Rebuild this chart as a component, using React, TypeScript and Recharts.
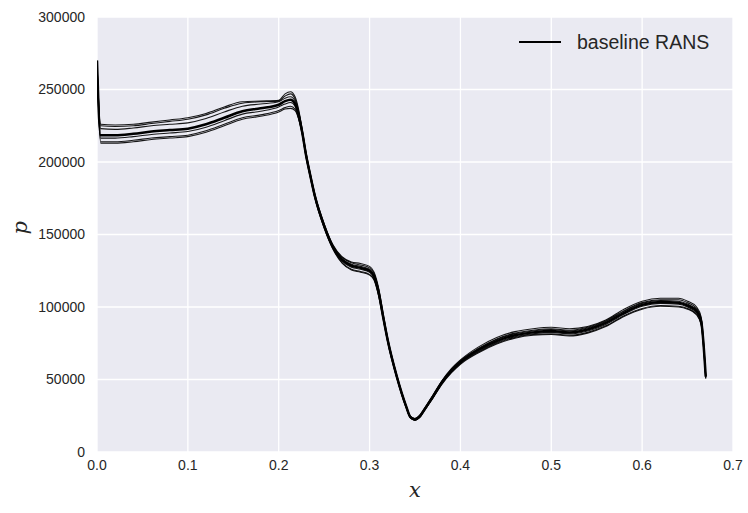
import React from 'react';
import { LineChart, Line, XAxis, YAxis, CartesianGrid, Label } from 'recharts';

const xs = [0, 0.004, 0.02, 0.04, 0.06, 0.08, 0.1, 0.12, 0.14, 0.16, 0.18, 0.2, 0.207, 0.213, 0.218, 0.222, 0.226, 0.23, 0.235, 0.24, 0.25, 0.26, 0.27, 0.28, 0.29, 0.3, 0.305, 0.31, 0.315, 0.32, 0.33, 0.34, 0.345, 0.35, 0.355, 0.36, 0.37, 0.38, 0.39, 0.4, 0.42, 0.44, 0.46, 0.48, 0.5, 0.52, 0.54, 0.56, 0.58, 0.6, 0.62, 0.64, 0.65, 0.66, 0.665, 0.67];

const baseline = [270000, 218500, 218500, 219500, 221000, 222000, 223000, 226000, 230500, 235000, 237000, 239500, 242000, 243000, 240000, 232000, 220000, 205000, 190000, 176000, 156000, 141000, 132500, 128500, 127000, 125000, 121000, 110000, 93000, 77000, 52000, 32000, 24000, 22500, 24500, 29000, 38500, 48500, 56000, 62000, 70500, 76500, 80500, 82500, 83500, 82500, 84500, 89000, 96000, 101500, 103500, 103000, 101000, 97000, 90000, 52000];

const sample1 = [268000, 226000, 225500, 226000, 227500, 229000, 230500, 233500, 238000, 241500, 242000, 242500, 247000, 248500, 245000, 236000, 222000, 207000, 191500, 177500, 157500, 142500, 134500, 131000, 130000, 128000, 124000, 113000, 95500, 78500, 53000, 32500, 24500, 23000, 25000, 29500, 39500, 49500, 57500, 63500, 72500, 79000, 83000, 85000, 86000, 85000, 86500, 91000, 98500, 104000, 106000, 106000, 104000, 100000, 93000, 52500];

const sample2 = [269000, 225000, 224500, 225000, 226500, 228000, 229500, 232500, 237000, 240500, 241500, 242000, 245500, 247000, 243500, 235000, 221500, 206500, 191000, 177000, 157000, 142000, 134000, 130500, 129000, 127000, 123000, 112000, 94500, 78000, 52500, 32500, 24500, 23000, 25000, 29500, 39000, 49000, 57000, 63000, 71500, 78000, 82000, 84000, 85000, 84000, 86000, 90500, 97500, 103000, 105000, 105000, 103000, 99000, 92000, 52000];

const sample3 = [269500, 223000, 222500, 223500, 225000, 226000, 227000, 230000, 234500, 238500, 240000, 241500, 244000, 245000, 242000, 233500, 221000, 206000, 190500, 176500, 156500, 141500, 133000, 129500, 128000, 126000, 122000, 111000, 94000, 77500, 52500, 32000, 24000, 22500, 24500, 29000, 39000, 49000, 56500, 62500, 71000, 77500, 81500, 83500, 84500, 83500, 85500, 90000, 97000, 102500, 104500, 104000, 102000, 98000, 91000, 52000];

const sample4 = [270000, 216500, 216500, 217500, 219000, 220000, 221000, 224000, 228500, 233000, 235000, 238000, 240000, 241000, 238500, 231000, 219500, 204500, 189500, 175500, 155500, 140500, 131500, 127500, 126000, 124000, 120000, 109000, 92500, 76500, 51500, 31500, 23500, 22000, 24000, 28500, 38000, 48000, 55500, 61500, 69500, 75500, 79500, 81500, 82500, 81500, 83500, 88000, 95000, 100500, 102500, 102000, 100000, 96000, 89000, 51500];

const sample5 = [268500, 214000, 214000, 215000, 216500, 217500, 218500, 221500, 226000, 230500, 232500, 235500, 237500, 238500, 236500, 230000, 219000, 204000, 189000, 175000, 155000, 140000, 130500, 126000, 124500, 122500, 119000, 108000, 92000, 76000, 51000, 31000, 23500, 22000, 24000, 28500, 37500, 47500, 55000, 61000, 69000, 75000, 79000, 81000, 81500, 80500, 82500, 87000, 94000, 99000, 101000, 100500, 99000, 95000, 88000, 51000];

const sample6 = [267500, 213000, 213000, 214000, 215500, 216500, 217500, 220500, 225000, 229500, 231500, 234500, 236500, 237000, 235500, 229500, 218500, 203500, 188500, 174500, 154500, 139500, 130000, 125500, 124000, 122000, 118500, 107500, 91500, 75500, 51000, 31000, 23500, 22000, 23500, 28000, 37500, 47000, 54500, 60500, 68500, 74500, 78500, 80500, 81000, 80000, 82000, 86500, 93500, 98500, 100500, 100000, 98500, 94500, 87500, 50500];

const xTicks = [0, 0.1, 0.2, 0.3, 0.4, 0.5, 0.6, 0.7];
const yTicks = [0, 50000, 100000, 150000, 200000, 250000, 300000];
const legendLabel = 'baseline RANS';

const samples = [sample1, sample2, sample3, sample4, sample5, sample6];

const data = xs.map((x, i) => {
  const row: Record<string, number> = { x, baseline: baseline[i] };
  samples.forEach((s, k) => {
    row['s' + (k + 1)] = s[i];
  });
  return row;
});

const tickStyle = { fill: '#262626', fontSize: 14, fontFamily: '"Liberation Sans", Arial, sans-serif' };
const mathStyle = { fontFamily: '"DejaVu Serif", "Liberation Serif", serif', fontStyle: 'italic' as const, fontSize: 21, fill: '#262626' };

export default function App() {
  return (
    <div style={{ position: 'absolute', left: 0, top: 0, width: 748, height: 513, background: '#fff' }}>
      <LineChart width={748} height={513} data={data} margin={{ top: 17, right: 15, left: 0, bottom: 31 }}>
        <CartesianGrid fill="#EAEAF2" stroke="#ffffff" strokeWidth={1.3} />
        <XAxis
          dataKey="x"
          type="number"
          domain={[0, 0.7]}
          ticks={xTicks}
          tickFormatter={(v: number) => v.toFixed(1)}
          axisLine={false}
          tickLine={false}
          height={30}
          tick={tickStyle}
          allowDataOverflow
        >
          <Label value="x" position="bottom" offset={0} style={mathStyle} />
        </XAxis>
        <YAxis
          type="number"
          domain={[0, 300000]}
          ticks={yTicks}
          axisLine={false}
          tickLine={false}
          width={97}
          tickMargin={6}
          tick={tickStyle}
          allowDataOverflow
        >
          <Label value="p" angle={-90} position="insideLeft" offset={20} style={mathStyle} />
        </YAxis>
        {samples.map((_, k) => (
          <Line
            key={k}
            type="monotone"
            dataKey={'s' + (k + 1)}
            stroke="#000"
            strokeOpacity={0.9}
            strokeWidth={1.1}
            dot={false}
            isAnimationActive={false}
            legendType="none"
          />
        ))}
        <Line type="monotone" dataKey="baseline" stroke="#000" strokeWidth={2.5} dot={false} isAnimationActive={false} />
      </LineChart>
      <div
        style={{
          position: 'absolute',
          left: 519,
          top: 31,
          display: 'flex',
          alignItems: 'center',
          height: 22,
          fontFamily: '"Liberation Sans", Arial, sans-serif',
        }}
      >
        <svg width={42} height={4} style={{ display: 'block' }}>
          <line x1={0} y1={2} x2={42} y2={2} stroke="#000" strokeWidth={2} />
        </svg>
        <span style={{ marginLeft: 16, fontSize: 19.5, color: '#262626', lineHeight: '22px', whiteSpace: 'nowrap' }}>{legendLabel}</span>
      </div>
    </div>
  );
}
